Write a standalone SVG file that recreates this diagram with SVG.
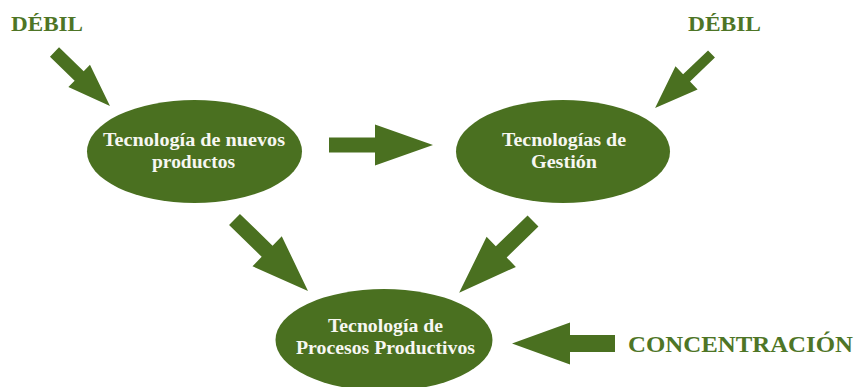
<svg xmlns="http://www.w3.org/2000/svg" width="856" height="387" viewBox="0 0 856 387">
<style>
.node{fill:#4a7020}
.arrow{fill:#4a7020}
.nt{font-family:"Liberation Serif","Times New Roman",serif;font-weight:bold;font-size:18.5px;fill:#f7f7f2;text-anchor:middle}
.lbl{font-family:"Liberation Serif","Times New Roman",serif;font-weight:bold;font-size:22px;fill:#4e7526}
</style>
<rect width="856" height="387" fill="#ffffff"/>
<g id="connectors">
  <polygon class="arrow" points="0,-6.5 34.4,-6.5 34.4,-15.5 77.4,0 34.4,15.5 34.4,6.5 0,6.5" transform="translate(54.5,52) rotate(44.2)"/>
  <polygon class="arrow" points="0,-5 34.5,-5 34.5,-16 78,0 34.5,16 34.5,5 0,5" transform="translate(711.5,54) rotate(136.3)"/>
  <polygon class="arrow" points="0,-7.5 46,-7.5 46,-20.5 104,0 46,20.5 46,7.5 0,7.5" transform="translate(329,145) rotate(0)"/>
  <polygon class="arrow" points="0,-7.8 45.5,-7.8 45.5,-21 102.5,0 45.5,21 45.5,7.8 0,7.8" transform="translate(234.5,219.5) rotate(44.2)"/>
  <polygon class="arrow" points="0,-7.8 44.3,-7.8 44.3,-21 103,0 44.3,21 44.3,7.8 0,7.8" transform="translate(533,221) rotate(135.8)"/>
  <polygon class="arrow" points="0,-8.5 45,-8.5 45,-21 103,0 45,21 45,8.5 0,8.5" transform="translate(615,343.5) rotate(180)"/>
</g>
<g id="node-nuevos-productos">
  <ellipse class="node" cx="194.5" cy="151.5" rx="107.5" ry="51.5"/>
  <text class="nt" x="194" y="146" textLength="182" lengthAdjust="spacingAndGlyphs">Tecnología de nuevos</text>
  <text class="nt" x="193.5" y="167.5" textLength="83" lengthAdjust="spacingAndGlyphs">productos</text>
</g>
<g id="node-gestion">
  <ellipse class="node" cx="563" cy="151.5" rx="107" ry="51.5"/>
  <text class="nt" x="564" y="146" textLength="124" lengthAdjust="spacingAndGlyphs">Tecnologías de</text>
  <text class="nt" x="564" y="167.5" textLength="66" lengthAdjust="spacingAndGlyphs">Gestión</text>
</g>
<g id="node-procesos">
  <ellipse class="node" cx="384" cy="340" rx="108.5" ry="51"/>
  <text class="nt" x="385.5" y="332" textLength="115" lengthAdjust="spacingAndGlyphs">Tecnología de</text>
  <text class="nt" x="385.5" y="354" textLength="179" lengthAdjust="spacingAndGlyphs">Procesos Productivos</text>
</g>
<g id="label-debil-left">
  <text class="lbl" x="11" y="31" textLength="72" lengthAdjust="spacingAndGlyphs">DÉBIL</text>
</g>
<g id="label-debil-right">
  <text class="lbl" x="688" y="31" textLength="73" lengthAdjust="spacingAndGlyphs">DÉBIL</text>
</g>
<g id="label-concentracion">
  <text class="lbl" x="628" y="352" textLength="225" lengthAdjust="spacingAndGlyphs" style="font-size:24px">CONCENTRACIÓN</text>
</g>
</svg>
